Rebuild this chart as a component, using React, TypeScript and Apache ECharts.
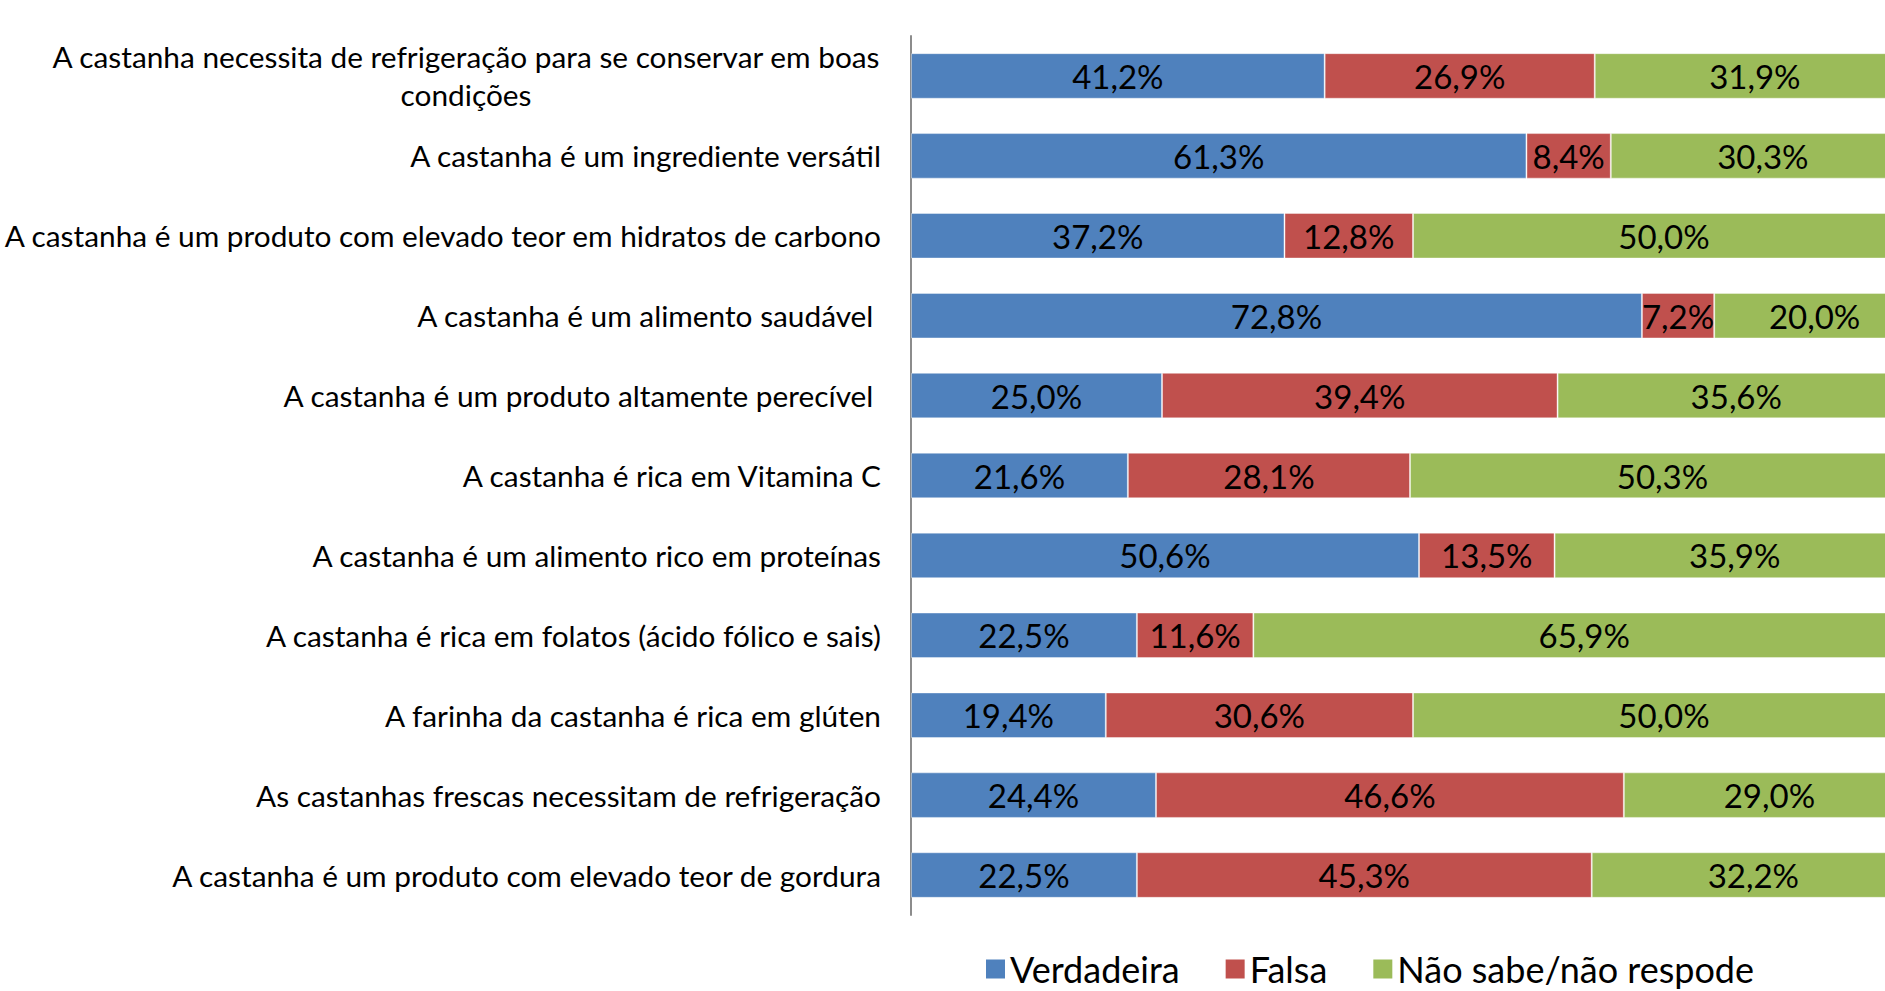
import React, { useEffect, useRef } from "react";
import * as echarts from "echarts";

const categories = [
  "A castanha necessita de refrigeração para se conservar em boas\ncondições",
  "A castanha é um ingrediente versátil",
  "A castanha é um produto com elevado teor em hidratos de carbono",
  "A castanha é um alimento saudável ",
  "A castanha é um produto altamente perecível ",
  "A castanha é rica em Vitamina C",
  "A castanha é um alimento rico em proteínas",
  "A castanha é rica em folatos (ácido fólico e sais)",
  "A farinha da castanha é rica em glúten",
  "As castanhas frescas necessitam de refrigeração",
  "A castanha é um produto com elevado teor de gordura",
];

const verdadeira = [41.2, 61.3, 37.2, 72.8, 25.0, 21.6, 50.6, 22.5, 19.4, 24.4, 22.5];
const falsa = [26.9, 8.4, 12.8, 7.2, 39.4, 28.1, 13.5, 11.6, 30.6, 46.6, 45.3];
const naoSabe = [31.9, 30.3, 50.0, 20.0, 35.6, 50.3, 35.9, 65.9, 50.0, 29.0, 32.2];

const seriesNames = ["Verdadeira", "Falsa", "Não sabe/não respode"];
const colors = ["#4F81BD", "#C0504D", "#9BBB59"];

const FONT = "Lato, 'Liberation Sans', sans-serif";
const CAT_SIZE = 29.8;
const LBL_SIZE = 33;

export default function App() {
  const ref = useRef<HTMLDivElement>(null);
  useEffect(() => {
    if (!ref.current) return;
    const chart = echarts.init(ref.current, null, { renderer: "svg" });
    const fmt = (p: any) => p.value.toFixed(1).replace(".", ",") + "%";
    const mk = (name: string, data: number[], color: string) => ({
      name,
      type: "bar",
      stack: "total",
      data,
      barWidth: "57%",
      itemStyle: { color, borderColor: "rgba(255,255,255,0.4)", borderWidth: 1 },
      label: {
        show: true,
        position: "inside",
        formatter: fmt,
        color: "#000",
        fontFamily: FONT,
        fontSize: LBL_SIZE,
      },
    });
    chart.setOption({
      animation: false,
      backgroundColor: "#fff",
      grid: {
        left: 911,
        top: 36,
        right: -30,
        height: 879,
        containLabel: false,
        outerBoundsMode: "none",
      },
      legend: {
        data: seriesNames,
        icon: "rect",
        itemWidth: 19,
        itemHeight: 19,
        itemGap: 46,
        left: 981,
        top: 946,
        itemStyle: { borderWidth: 0 },
        textStyle: { fontFamily: FONT, fontSize: 36, color: "#000" },
      },
      xAxis: { type: "value", min: 0, max: 100, show: false },
      yAxis: {
        type: "category",
        inverse: true,
        data: categories,
        axisLine: { show: true, lineStyle: { color: "#8c8c8c", width: 2 } },
        axisTick: { show: false },
        axisLabel: {
          margin: 30,
          color: "#000",
          fontFamily: FONT,
          fontSize: CAT_SIZE,
          lineHeight: 38,
          formatter: (v: string) => {
            if (v.indexOf("\n") >= 0) {
              return v
                .split("\n")
                .map((s) => "{w|" + s + "}")
                .join("\n");
            }
            return v;
          },
          rich: {
            w: {
              width: 830,
              align: "center",
              fontFamily: FONT,
              fontSize: CAT_SIZE,
              color: "#000",
              lineHeight: 38,
            },
          },
        },
      },
      series: [
        mk(seriesNames[0], verdadeira, colors[0]),
        mk(seriesNames[1], falsa, colors[1]),
        mk(seriesNames[2], naoSabe, colors[2]),
      ],
    });
    return () => chart.dispose();
  }, []);
  return (
    <div
      ref={ref}
      style={{ position: "fixed", left: 0, top: 0, width: 1885, height: 991, overflow: "hidden" }}
    />
  );
}
